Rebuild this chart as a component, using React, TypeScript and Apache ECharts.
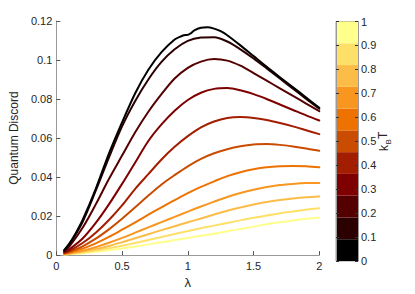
import React, { useEffect, useRef } from "react";
import * as echarts from "echarts";

// Temperature levels (k_B T) and their colours
const KT_LEVELS = [0, 0.1, 0.2, 0.3, 0.4, 0.5, 0.6, 0.7, 0.8, 0.9, 1.0];
const KT_COLORS = [
  "#000000", "#2b0000", "#550000", "#7f0000", "#a31e00", "#c94c00",
  "#ee7200", "#f89620", "#fcbd48", "#fee068", "#ffff8c",
];

// lambda grids
const LAMBDA = [0.06, 0.1, 0.2, 0.3, 0.4, 0.5, 0.6, 0.7, 0.8, 0.9, 1.0, 1.1, 1.2, 1.3, 1.4, 1.5, 1.6, 1.7, 1.8, 1.9, 2.0];
const LAMBDA_T0 = [0.06, 0.1, 0.15, 0.2, 0.3, 0.4, 0.5, 0.6, 0.7, 0.8, 0.9, 0.95, 0.98, 1.0, 1.02, 1.05, 1.1, 1.15, 1.2, 1.25, 1.3, 1.4, 1.5, 1.6, 1.7, 1.8, 1.9, 2.0];

// Quantum discord values
const QD_T00 = [0.0025, 0.006, 0.0115, 0.018, 0.034, 0.052, 0.068, 0.083, 0.095, 0.104, 0.1105, 0.1122, 0.1128, 0.1129, 0.1136, 0.1152, 0.1165, 0.1168, 0.1161, 0.1148, 0.1127, 0.1075, 0.102, 0.0965, 0.0912, 0.086, 0.0808, 0.0755];
const QD_T01 = [0.0024, 0.0055, 0.017, 0.033, 0.05, 0.066, 0.079, 0.09, 0.099, 0.1055, 0.1098, 0.1115, 0.1117, 0.1095, 0.1055, 0.1008, 0.0957, 0.0905, 0.0853, 0.0801, 0.075];
const QD_T02 = [0.002, 0.0045, 0.014, 0.026, 0.039, 0.051, 0.063, 0.0735, 0.0825, 0.0905, 0.096, 0.0992, 0.1005, 0.0997, 0.0971, 0.0933, 0.0894, 0.0855, 0.0816, 0.0777, 0.0738];
const QD_T03 = [0.0015, 0.003, 0.0085, 0.0165, 0.026, 0.0365, 0.0475, 0.0585, 0.067, 0.074, 0.0795, 0.0832, 0.0852, 0.0856, 0.0845, 0.0825, 0.08, 0.0772, 0.0744, 0.0716, 0.069];
const QD_T04 = [0.0012, 0.0022, 0.0062, 0.0115, 0.018, 0.0255, 0.034, 0.0415, 0.049, 0.0555, 0.061, 0.0655, 0.0685, 0.0703, 0.0708, 0.0703, 0.0692, 0.0677, 0.066, 0.064, 0.062];
const QD_T05 = [0.001, 0.0017, 0.0045, 0.0084, 0.0132, 0.0186, 0.0245, 0.0305, 0.0362, 0.041, 0.0455, 0.0493, 0.0522, 0.0543, 0.0558, 0.0567, 0.0569, 0.0565, 0.0557, 0.0547, 0.0535];
const QD_T06 = [0.0008, 0.0013, 0.0033, 0.006, 0.0093, 0.013, 0.0168, 0.0207, 0.0245, 0.0282, 0.0318, 0.035, 0.0378, 0.0405, 0.0425, 0.044, 0.045, 0.0455, 0.0457, 0.0455, 0.045];
const QD_T07 = [0.0006, 0.001, 0.0023, 0.0041, 0.0063, 0.0088, 0.0115, 0.0142, 0.0169, 0.0196, 0.0223, 0.0249, 0.0274, 0.0298, 0.0318, 0.0335, 0.0349, 0.0359, 0.0365, 0.0369, 0.037];
const QD_T08 = [0.0005, 0.0008, 0.0018, 0.0031, 0.0047, 0.0066, 0.0086, 0.0107, 0.0128, 0.0148, 0.0168, 0.0188, 0.0208, 0.0227, 0.0244, 0.0259, 0.0272, 0.0282, 0.029, 0.0296, 0.03];
const QD_T09 = [0.0004, 0.0006, 0.0013, 0.0023, 0.0035, 0.0048, 0.0062, 0.0077, 0.0093, 0.0108, 0.0123, 0.0138, 0.0151, 0.0165, 0.0178, 0.0191, 0.0203, 0.0214, 0.0224, 0.0233, 0.024];
const QD_T10 = [0.0003, 0.0005, 0.001, 0.0017, 0.0025, 0.0034, 0.0044, 0.0055, 0.0066, 0.0077, 0.0088, 0.0099, 0.011, 0.0122, 0.0134, 0.0146, 0.0158, 0.0168, 0.0177, 0.0186, 0.0193];

const CURVES = [QD_T00, QD_T01, QD_T02, QD_T03, QD_T04, QD_T05, QD_T06, QD_T07, QD_T08, QD_T09, QD_T10];

const Y_MAX = 0.12;
const Y_STEP = 0.02;

const FONT = "'Liberation Sans', Arial, Helvetica, sans-serif";
const AXIS_GRAY = "#9a9a9a";
const TEXT = "#262626";

export default function App() {
  const ref = useRef<HTMLDivElement>(null);

  useEffect(() => {
    if (!ref.current) return;
    const chart = echarts.init(ref.current, null, { renderer: "svg" });

    const lineSeries = CURVES.map((vals, i) => {
      const xs = i === 0 ? LAMBDA_T0 : LAMBDA;
      return {
        type: "line",
        name: "kT=" + KT_LEVELS[i],
        xAxisIndex: 0,
        yAxisIndex: 0,
        data: vals.map((v, j) => [xs[j], v]),
        showSymbol: false,
        smooth: 0.3,
        z: 20 - i,
        lineStyle: { color: KT_COLORS[i], width: 2, join: "round", cap: "round" },
      };
    });

    const bandSize = 1 / KT_LEVELS.length;
    const barSeries = KT_LEVELS.map((kt, i) => ({
      type: "bar",
      name: "band" + kt,
      xAxisIndex: 1,
      yAxisIndex: 1,
      stack: "cb",
      barWidth: "100%",
      data: [bandSize],
      itemStyle: { color: KT_COLORS[i] },
      silent: true,
    }));

    chart.setOption({
      animation: false,
      textStyle: { fontFamily: FONT },
      grid: [
        { left: 53.3, top: 21, width: 266, height: 240 },
        { left: 336, top: 21.5, width: 22, height: 239.5, show: true, borderColor: AXIS_GRAY, borderWidth: 1 },
      ],
      xAxis: [
        {
          type: "value",
          gridIndex: 0,
          min: 0,
          max: 2,
          interval: 0.5,
          splitLine: { show: false },
          axisLine: { lineStyle: { color: AXIS_GRAY, width: 1 } },
          axisTick: { inside: true, length: 4, lineStyle: { color: "#555" } },
          axisLabel: { color: TEXT, fontSize: 11, margin: 5, fontFamily: FONT },
          name: "λ",
          nameLocation: "middle",
          nameGap: 16,
          nameTextStyle: { color: TEXT, fontSize: 13, fontFamily: FONT },
        },
        {
          type: "category",
          gridIndex: 1,
          data: ["cb"],
          show: false,
        },
      ],
      yAxis: [
        {
          type: "value",
          gridIndex: 0,
          min: 0,
          max: Y_MAX,
          interval: Y_STEP,
          splitLine: { show: false },
          axisLine: { show: true, lineStyle: { color: AXIS_GRAY, width: 1 } },
          axisTick: { show: true, inside: true, length: 4, lineStyle: { color: "#555" } },
          axisLabel: { color: TEXT, fontSize: 11, margin: 4, fontFamily: FONT },
          name: "Quantum Discord",
          nameLocation: "middle",
          nameGap: 30,
          nameTextStyle: { color: TEXT, fontSize: 12, fontFamily: FONT },
        },
        {
          type: "value",
          gridIndex: 1,
          position: "right",
          min: 0,
          max: 1,
          interval: 0.1,
          splitLine: { show: false },
          axisLine: { show: true, lineStyle: { color: AXIS_GRAY } },
          axisTick: { show: true, inside: true, length: 3, lineStyle: { color: "#333" } },
          axisLabel: { color: TEXT, fontSize: 11, margin: 3, fontFamily: FONT },
          z: 10,
        },
        {
          type: "value",
          gridIndex: 1,
          position: "left",
          min: 0,
          max: 1,
          interval: 0.1,
          splitLine: { show: false },
          axisLine: { show: true, lineStyle: { color: AXIS_GRAY } },
          axisTick: { show: true, inside: true, length: 3, lineStyle: { color: "#333" } },
          axisLabel: { show: false },
          z: 10,
        },
      ],
      graphic: [
        {
          type: "group",
          x: 384,
          y: 141,
          rotation: Math.PI / 2,
          children: [
            { type: "text", x: -10, y: 0, style: { text: "k", fontSize: 12, fill: TEXT, fontFamily: FONT, textAlign: "left", textVerticalAlign: "middle" } },
            { type: "text", x: -3.5, y: 4, style: { text: "B", fontSize: 8, fill: TEXT, fontFamily: FONT, textAlign: "left", textVerticalAlign: "middle" } },
            { type: "text", x: 2, y: -1, style: { text: "T", fontSize: 12, fill: TEXT, fontFamily: FONT, textAlign: "left", textVerticalAlign: "middle" } },
          ],
        },
      ],
      series: [...lineSeries, ...barSeries],
    });

    return () => chart.dispose();
  }, []);

  return (
    <div
      ref={ref}
      style={{ position: "fixed", left: 0, top: 0, width: 415, height: 294, background: "#fff" }}
    />
  );
}
